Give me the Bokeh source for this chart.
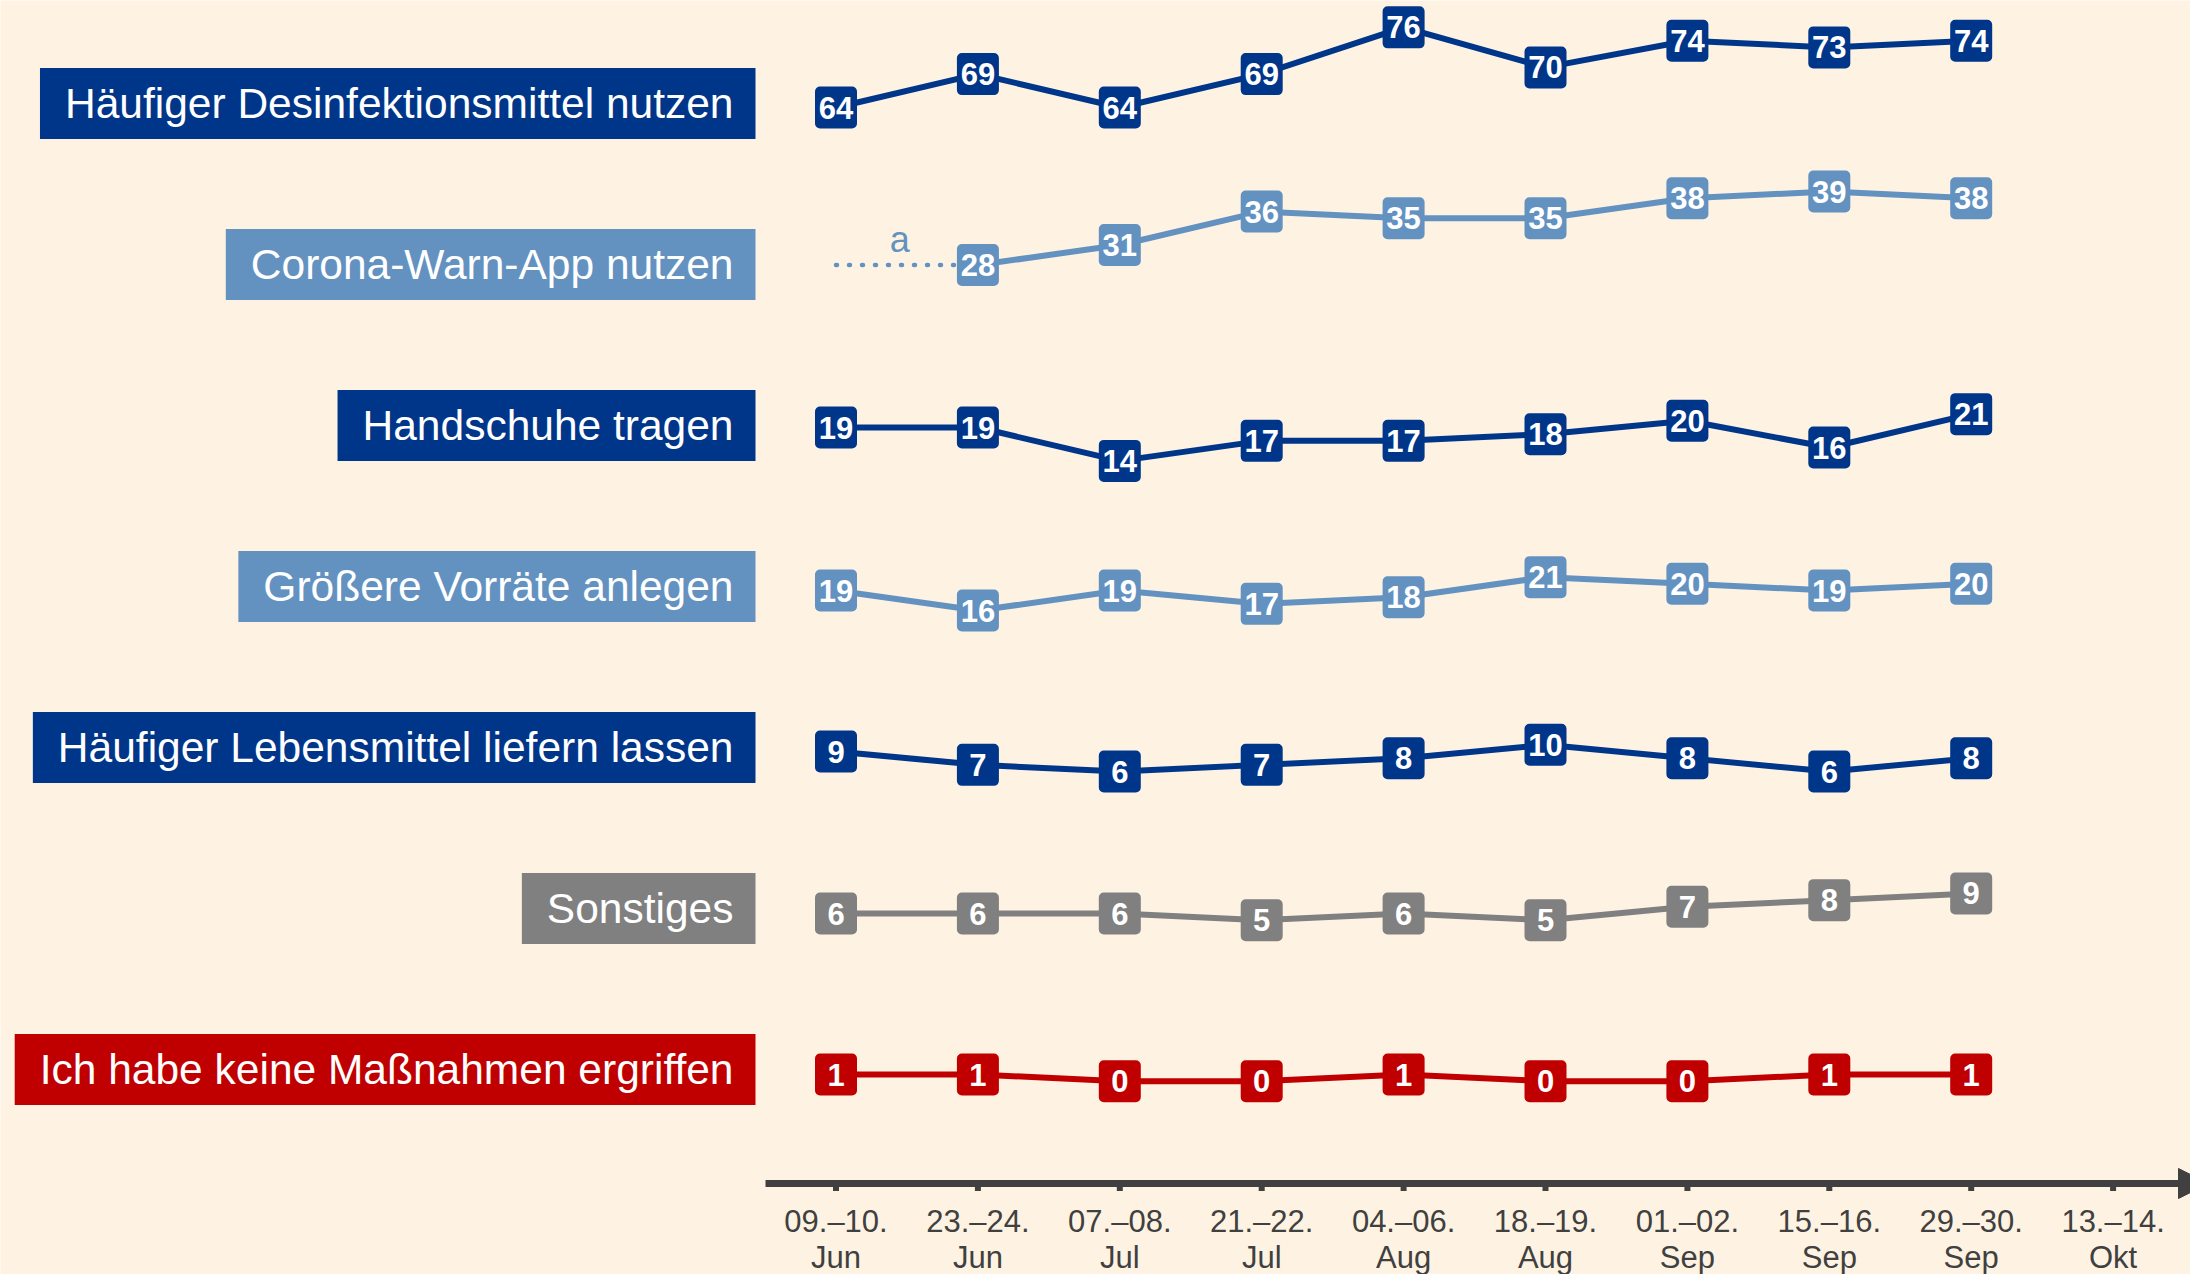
import math
from bokeh.plotting import figure
from bokeh.models import Range1d, ColumnDataSource, Arrow, NormalHead
from bokeh.core.properties import value
from bokeh.embed import file_html
from bokeh.resources import INLINE

# ---------------- data ----------------
date_days = ["09.–10.", "23.–24.", "07.–08.", "21.–22.", "04.–06.",
             "18.–19.", "01.–02.", "15.–16.", "29.–30.", "13.–14."]
date_months = ["Jun", "Jun", "Jul", "Jul", "Aug", "Aug", "Sep", "Sep", "Sep", "Okt"]

categories = [
    "Häufiger Desinfektionsmittel nutzen",
    "Corona-Warn-App nutzen",
    "Handschuhe tragen",
    "Größere Vorräte anlegen",
    "Häufiger Lebensmittel liefern lassen",
    "Sonstiges",
    "Ich habe keine Maßnahmen ergriffen",
]

desinfektion = [64, 69, 64, 69, 76, 70, 74, 73, 74]
warn_app = [None, 28, 31, 36, 35, 35, 38, 39, 38]
handschuhe = [19, 19, 14, 17, 17, 18, 20, 16, 21]
vorraete = [19, 16, 19, 17, 18, 21, 20, 19, 20]
lebensmittel = [9, 7, 6, 7, 8, 10, 8, 6, 8]
sonstiges = [6, 6, 6, 5, 6, 5, 7, 8, 9]
keine = [1, 1, 0, 0, 1, 0, 0, 1, 1]
series = [desinfektion, warn_app, handschuhe, vorraete, lebensmittel, sonstiges, keine]
note_text = "a"

# ---------------- style / layout ----------------
BG = "#FEF3E2"
DARK = "#003689"
LIGHT = "#6392C1"
GRAY = "#808080"
RED = "#C00000"
AXIS = "#404040"
row_colors = [DARK, LIGHT, DARK, LIGHT, DARK, GRAY, RED]
FONT = value("Liberation Sans")

W, H = 2190, 1274
X0_PX, DX_PX = 835.5, 141.9          # pixel position of first date and spacing
K = 6.68                              # pixels per percentage point
row_centers = [103 + 161 * i for i in range(len(categories))]
row_anchor = [107, 264.5, 427, 590, 751, 913, 1074]


def xi(px):
    return (px - X0_PX) / DX_PX


p = figure(width=W, height=H,
           x_range=Range1d(xi(0), xi(W)),
           y_range=Range1d(H, 0),
           output_backend="svg", toolbar_location=None,
           x_axis_location=None, y_axis_location=None,
           min_border=0, background_fill_color=BG, border_fill_color=BG,
           outline_line_color=None)
p.grid.visible = False

extra = {}
for r, vals in enumerate(series):
    f = next(i for i, v in enumerate(vals) if v is not None)
    v0 = vals[f]
    extra[f"row{r}"] = Range1d(v0 + (row_anchor[r] - H) / K,
                               v0 + (row_anchor[r] - 0) / K)
p.extra_y_ranges = extra

for r, vals in enumerate(series):
    name = f"row{r}"
    c = row_colors[r]
    xs = list(range(len(vals)))
    ys = [float("nan") if v is None else v for v in vals]
    f = next(i for i, v in enumerate(vals) if v is not None)
    if f > 0:
        p.line([f - 1, f], [vals[f], vals[f]], y_range_name=name, line_color=c,
               line_width=4.5, line_dash="1 12", line_cap="round")
        p.text(x=[f - 0.55], y=[239], text=[note_text], text_align="center",
               text_baseline="alphabetic", text_color=c, text_font=FONT,
               text_font_size="36px")
    p.line(xs, ys, y_range_name=name, line_color=c, line_width=6, line_join="round")
    src = ColumnDataSource(dict(
        x=[x for x, v in zip(xs, vals) if v is not None],
        y=[v for v in vals if v is not None],
        lab=[str(v) for v in vals if v is not None]))
    # rounded value boxes: square marker with a thick round-joined outline
    p.scatter(x="x", y="y", source=src, y_range_name=name, marker="square",
              size=32, fill_color=c, line_color=c, line_width=10,
              line_join="round")
    p.text(x="x", y="y", text="lab", source=src, y_range_name=name,
           text_align="center", text_baseline="middle", text_color="white",
           text_font=FONT, text_font_style="bold", text_font_size="31px")

# category labels with coloured boxes (anchor = right edge of the box)
lab_src = ColumnDataSource(dict(x=[xi(755)] * len(categories), y=row_centers,
                                text=categories, color=row_colors))
p.text(x="x", y="y", text="text", source=lab_src, text_align="right",
       text_baseline="middle", text_color="white", text_font=FONT,
       text_font_size="42.5px", background_fill_color="color",
       padding=dict(left=25, right=22, top=12, bottom=12))

# time axis with arrow
n_dates = len(date_days)
AXIS_Y = 1183
p.add_layout(Arrow(x_start=xi(765), y_start=AXIS_Y, x_end=xi(2208), y_end=AXIS_Y,
                   line_color=AXIS, line_width=7,
                   end=NormalHead(size=30, fill_color=AXIS, line_color=AXIS, line_width=1)))
p.segment(x0=list(range(n_dates)), y0=[AXIS_Y] * n_dates,
          x1=list(range(n_dates)), y1=[AXIS_Y + 7.5] * n_dates,
          line_color=AXIS, line_width=6)
p.text(x=list(range(n_dates)), y=[1221] * n_dates, text=date_days,
       text_align="center", text_baseline="alphabetic", text_color=AXIS,
       text_font=FONT, text_font_size="31px")
p.text(x=list(range(n_dates)), y=[1257] * n_dates, text=date_months,
       text_align="center", text_baseline="alphabetic", text_color=AXIS,
       text_font=FONT, text_font_size="31px")

html = file_html(p, INLINE, title="Maßnahmen")
html = html.replace("<body>", f'<body style="background-color:{BG};">', 1)
open("out.html", "w").write(html)
